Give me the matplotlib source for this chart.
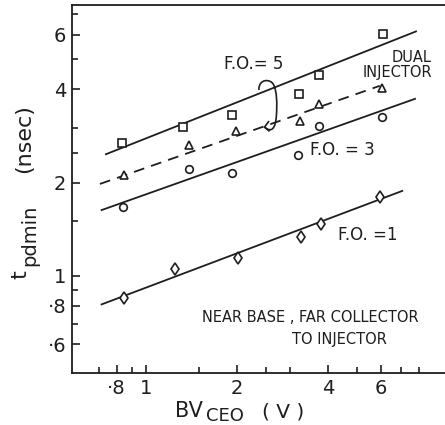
import matplotlib
matplotlib.use("Agg")
import matplotlib.pyplot as plt
from matplotlib.path import Path
from matplotlib.patches import PathPatch
from matplotlib.ticker import FixedLocator, FixedFormatter, NullFormatter

# measured points, BV_CEO (V) vs t_pdmin (nsec)
bv_sq = [0.835, 1.33, 1.93, 3.21, 3.74, 6.08]
t_sq = [2.68, 3.03, 3.30, 3.86, 4.47, 6.04]
bv_tri = [0.847, 1.39, 1.98, 3.23, 3.74, 6.05]
t_tri = [2.11, 2.64, 2.93, 3.17, 3.60, 4.04]
bv_circ = [0.839, 1.385, 1.93, 3.20, 3.74, 6.05]
t_circ = [1.67, 2.21, 2.15, 2.46, 3.05, 3.26]
bv_dia = [0.845, 1.245, 2.01, 3.26, 3.80, 5.97]
t_dia = [0.845, 1.05, 1.14, 1.33, 1.47, 1.80]

# fitted lines (end points)
fo5_x = [0.737, 7.84]
fo5_y = [2.47, 6.16]
dual_x = [0.704, 5.95]
dual_y = [1.98, 4.11]
fo3_x = [0.713, 7.78]
fo3_y = [1.63, 3.73]
fo1_x = [0.713, 7.06]
fo1_y = [0.808, 1.88]

x_major = [0.8, 1, 2, 4, 6]
x_major_labels = ['·8', '1', '2', '4', '6']
x_minor = [0.7, 0.9, 1.5, 2.5, 3, 5, 7, 8]
y_major = [0.6, 0.8, 1, 2, 4, 6]
y_major_labels = ['·6', '·8', '1', '2', '4', '6']
y_minor = [0.7, 0.9, 1.5, 2.5, 3, 5, 7]

ink = '#1e1e1e'
plt.rcParams['font.family'] = 'DejaVu Sans'

fig = plt.figure(figsize=(4.45, 4.25), dpi=100)
ax = fig.add_axes([0.1618, 0.1224, 0.8382, 0.8659])
ax.set_xscale('log')
ax.set_yscale('log')
ax.set_xlim(0.569, 9.78)
ax.set_ylim(0.485, 7.5)

lw = 1.3
ax.plot(fo5_x, fo5_y, color=ink, lw=lw)
ax.plot(dual_x, dual_y, color=ink, lw=lw, dashes=(6, 4))
ax.plot(fo3_x, fo3_y, color=ink, lw=lw)
ax.plot(fo1_x, fo1_y, color=ink, lw=lw)

mk = dict(linestyle='none', markerfacecolor='white', markeredgecolor=ink, markeredgewidth=1.2)
ax.plot(bv_sq, t_sq, marker='s', markersize=5.5, **mk)
ax.plot(bv_tri, t_tri, marker='^', markersize=6, **mk)
ax.plot(bv_circ, t_circ, marker='o', markersize=5.5, **mk)
ax.plot(bv_dia, t_dia, marker='d', markersize=6.5, **mk)

# the loop tying F.O.=5 to both curves
verts = [(0.501, 0.769),
         (0.500, 0.800), (0.532, 0.800), (0.540, 0.784),
         (0.550, 0.765), (0.550, 0.730), (0.548, 0.700),
         (0.546, 0.665), (0.535, 0.652), (0.518, 0.667)]
codes = [Path.MOVETO] + [Path.CURVE4] * 9
ax.add_patch(PathPatch(Path(verts, codes), transform=ax.transAxes,
                       facecolor='none', edgecolor=ink, lw=1.2))
ax.plot([0.527, 0.516, 0.528], [0.683, 0.668, 0.658], transform=ax.transAxes,
        color=ink, lw=1.2)

tfs = 12
ax.text(0.488, 0.840, 'F.O.= 5', transform=ax.transAxes, fontsize=tfs,
        ha='center', va='center', color=ink)
ax.text(0.965, 0.836, 'DUAL\nINJECTOR', transform=ax.transAxes, fontsize=10.5,
        ha='right', va='center', color=ink, linespacing=1.0)
ax.text(0.638, 0.606, 'F.O. = 3', transform=ax.transAxes, fontsize=tfs,
        ha='left', va='center', color=ink)
ax.text(0.713, 0.375, 'F.O. =1', transform=ax.transAxes, fontsize=tfs,
        ha='left', va='center', color=ink)
ax.text(0.349, 0.152, 'NEAR BASE , FAR COLLECTOR', transform=ax.transAxes,
        fontsize=10.5, ha='left', va='center', color=ink)
ax.text(0.590, 0.090, 'TO INJECTOR', transform=ax.transAxes,
        fontsize=10.5, ha='left', va='center', color=ink)

ax.xaxis.set_major_locator(FixedLocator(x_major))
ax.xaxis.set_major_formatter(FixedFormatter(x_major_labels))
ax.xaxis.set_minor_locator(FixedLocator(x_minor))
ax.xaxis.set_minor_formatter(NullFormatter())
ax.yaxis.set_major_locator(FixedLocator(y_major))
ax.yaxis.set_major_formatter(FixedFormatter(y_major_labels))
ax.yaxis.set_minor_locator(FixedLocator(y_minor))
ax.yaxis.set_minor_formatter(NullFormatter())

ax.tick_params(which='both', direction='in', color=ink, width=1.2,
               labelsize=14, labelcolor=ink, pad=4)
ax.tick_params(which='major', length=6)
ax.tick_params(which='minor', length=4)
ax.tick_params(axis='y', which='both', right=False)
ax.tick_params(axis='x', which='both', top=False)

for side in ['left', 'bottom', 'top']:
    ax.spines[side].set_color(ink)
    ax.spines[side].set_linewidth(1.3)
ax.spines['right'].set_visible(False)

# axis titles with near full-size subscripts, as in the drawing
fig.text(0.393, 0.0188, 'BV', fontsize=15, color=ink, ha='left', va='baseline')
fig.text(0.463, 0.0094, 'CEO', fontsize=13, color=ink, ha='left', va='baseline')
fig.text(0.589, 0.0188, '( V )', fontsize=14.5, color=ink, ha='left', va='baseline')

fig.text(0.045, 0.353, 't', fontsize=16, color=ink, rotation=90, ha='center', va='center')
fig.text(0.0674, 0.447, 'pdmin', fontsize=14, color=ink, rotation=90, ha='center', va='center')
fig.text(0.054, 0.674, '(nsec)', fontsize=16, color=ink, rotation=90, ha='center', va='center')

fig.savefig('out.png', dpi=100, facecolor='white')
